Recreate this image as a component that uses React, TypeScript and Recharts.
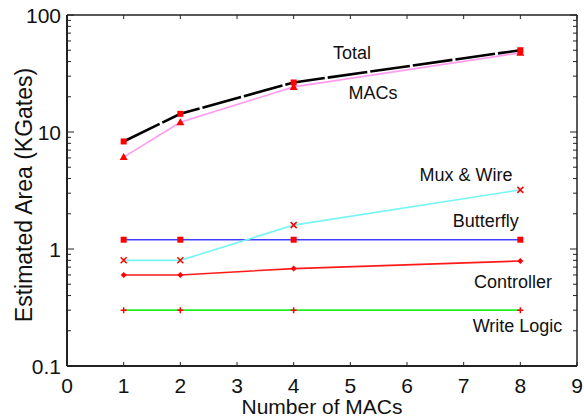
import React from "react";
import { LineChart, Line, XAxis, YAxis, ReferenceDot } from "recharts";

const macs = [1, 2, 4, 8];
const totalArea = [8.3, 14.3, 26.5, 50];
const macArea = [6.1, 12.1, 24.3, 47.5];
const muxWireArea = [0.8, 0.8, 1.6, 3.2];
const butterflyArea = [1.2, 1.2, 1.2, 1.2];
const controllerArea = [0.6, 0.6, 0.68, 0.79];
const writeLogicArea = [0.3, 0.3, 0.3, 0.3];

const xTicks = [0, 1, 2, 3, 4, 5, 6, 7, 8, 9];
const yMajorTicks = [0.1, 1, 10, 100];
const yTicks = [
  0.1, 0.2, 0.3, 0.4, 0.5, 0.6, 0.7, 0.8, 0.9,
  1, 2, 3, 4, 5, 6, 7, 8, 9,
  10, 20, 30, 40, 50, 60, 70, 80, 90, 100,
];

const seriesLabels = [
  { name: "Total", x: 5.03, y: 47 },
  { name: "MACs", x: 5.4, y: 21.5 },
  { name: "Mux & Wire", x: 7.04, y: 4.3 },
  { name: "Butterfly", x: 7.39, y: 1.73 },
  { name: "Controller", x: 7.87, y: 0.52 },
  { name: "Write Logic", x: 7.95, y: 0.22 },
];

const data = macs.map((m, i) => ({
  macs: m,
  total: totalArea[i],
  mac: macArea[i],
  mux: muxWireArea[i],
  butterfly: butterflyArea[i],
  controller: controllerArea[i],
  writeLogic: writeLogicArea[i],
}));

const W = 584;
const H = 420;
const LEFT = 67;
const RIGHT = 577;
const TOP = 15;
const BOTTOM = 366;
const FONT = "'Liberation Sans', Arial, Helvetica, sans-serif";
const AXIS = "#222";
const MARK = "#ff0000";

const isMajor = (v: number) => yMajorTicks.some((t) => Math.abs(t - v) < 1e-9);

function BottomTick(props: any) {
  const { x, payload } = props;
  return (
    <g>
      <line x1={x} x2={x} y1={BOTTOM} y2={BOTTOM - 4} stroke={AXIS} strokeWidth={1} />
      <text x={x} y={BOTTOM + 27} textAnchor="middle" fontSize={21} fill="#111" fontFamily={FONT}>
        {payload.value}
      </text>
    </g>
  );
}

function TopTick(props: any) {
  const { x } = props;
  return <line x1={x} x2={x} y1={TOP} y2={TOP + 4} stroke={AXIS} strokeWidth={1} />;
}

function LeftTick(props: any) {
  const { y, payload } = props;
  const major = isMajor(payload.value);
  return (
    <g>
      <line x1={LEFT} x2={LEFT + (major ? 7 : 4)} y1={y} y2={y} stroke={AXIS} strokeWidth={1} />
      {major && (
        <text x={LEFT - 6} y={y + 8} textAnchor="end" fontSize={21} fill="#111" fontFamily={FONT}>
          {payload.value}
        </text>
      )}
    </g>
  );
}

function RightTick(props: any) {
  const { y, payload } = props;
  const major = isMajor(payload.value);
  return <line x1={RIGHT} x2={RIGHT - (major ? 7 : 4)} y1={y} y2={y} stroke={AXIS} strokeWidth={1} />;
}

const square = (p: any) => (
  <rect key={p.key ?? p.index} x={p.cx - 3} y={p.cy - 3} width={6} height={6} fill={MARK} />
);
const triangle = (p: any) => (
  <path key={p.key ?? p.index} d={`M${p.cx},${p.cy - 4} L${p.cx + 4},${p.cy + 3} L${p.cx - 4},${p.cy + 3} Z`} fill={MARK} />
);
const cross = (p: any) => (
  <path key={p.key ?? p.index} d={`M${p.cx - 3},${p.cy - 3} L${p.cx + 3},${p.cy + 3} M${p.cx - 3},${p.cy + 3} L${p.cx + 3},${p.cy - 3}`} stroke={MARK} strokeWidth={1.5} />
);
const diamond = (p: any) => (
  <path key={p.key ?? p.index} d={`M${p.cx},${p.cy - 3} L${p.cx + 3},${p.cy} L${p.cx},${p.cy + 3} L${p.cx - 3},${p.cy} Z`} fill={MARK} />
);
const plus = (p: any) => (
  <path key={p.key ?? p.index} d={`M${p.cx - 3},${p.cy} L${p.cx + 3},${p.cy} M${p.cx},${p.cy - 3} L${p.cx},${p.cy + 3}`} stroke={MARK} strokeWidth={1.5} />
);

export default function App() {
  return (
    <div style={{ position: "absolute", left: 0, top: 0, width: W, height: H, background: "#fff" }}>
      <LineChart width={W} height={H} data={data} margin={{ top: 0, right: 0, bottom: 0, left: 0 }}>
        <XAxis
          xAxisId="bottom"
          dataKey="macs"
          type="number"
          domain={[0, 9]}
          ticks={xTicks}
          interval={0}
          height={H - BOTTOM}
          tick={<BottomTick />}
          tickLine={false}
          axisLine={{ stroke: AXIS, strokeWidth: 2 }}
          label={{
            content: () => (
              <text x={(LEFT + RIGHT) / 2} y={414} textAnchor="middle" fontSize={21} fill="#111" fontFamily={FONT}>
                Number of MACs
              </text>
            ),
          }}
        />
        <XAxis
          xAxisId="top"
          orientation="top"
          dataKey="macs"
          type="number"
          domain={[0, 9]}
          ticks={xTicks}
          interval={0}
          height={TOP}
          tick={<TopTick />}
          tickLine={false}
          axisLine={{ stroke: AXIS, strokeWidth: 1.5 }}
        />
        <YAxis
          yAxisId="left"
          scale="log"
          type="number"
          domain={[0.1, 100]}
          allowDataOverflow
          ticks={yTicks}
          interval={0}
          width={LEFT}
          tick={<LeftTick />}
          tickLine={false}
          axisLine={{ stroke: AXIS, strokeWidth: 2 }}
          label={{
            content: () => (
              <text
                x={32}
                y={195}
                transform="rotate(-90 32 195)"
                textAnchor="middle"
                fontSize={23}
                fill="#111"
                fontFamily={FONT}
              >
                Estimated Area (KGates)
              </text>
            ),
          }}
        />
        <YAxis
          yAxisId="right"
          orientation="right"
          scale="log"
          type="number"
          domain={[0.1, 100]}
          allowDataOverflow
          ticks={yTicks}
          interval={0}
          width={W - RIGHT}
          tick={<RightTick />}
          tickLine={false}
          axisLine={{ stroke: AXIS, strokeWidth: 1.5 }}
        />
        <Line xAxisId="bottom" yAxisId="left" dataKey="writeLogic" stroke="#22ee22" strokeWidth={1.8} dot={plus} isAnimationActive={false} />
        <Line xAxisId="bottom" yAxisId="left" dataKey="controller" stroke="#ff1a1a" strokeWidth={1.6} dot={diamond} isAnimationActive={false} />
        <Line xAxisId="bottom" yAxisId="left" dataKey="butterfly" stroke="#4040ff" strokeWidth={1.6} dot={square} isAnimationActive={false} />
        <Line xAxisId="bottom" yAxisId="left" dataKey="mux" stroke="#77f5f5" strokeWidth={1.6} dot={cross} isAnimationActive={false} />
        <Line xAxisId="bottom" yAxisId="left" dataKey="mac" stroke="#ff9cf0" strokeWidth={1.6} dot={triangle} isAnimationActive={false} />
        <Line xAxisId="bottom" yAxisId="left" dataKey="total" stroke="#000" strokeWidth={2.6} strokeDasharray="40 3" dot={square} isAnimationActive={false} />
        {seriesLabels.map((l) => (
          <ReferenceDot
            key={l.name}
            xAxisId="bottom"
            yAxisId="left"
            x={l.x}
            y={l.y}
            r={0}
            ifOverflow="visible"
            shape={(p: any) => (
              <text x={p.cx} y={p.cy + 6} textAnchor="middle" fontSize={18} fill="#111" fontFamily={FONT}>
                {l.name}
              </text>
            )}
          />
        ))}
      </LineChart>
    </div>
  );
}
